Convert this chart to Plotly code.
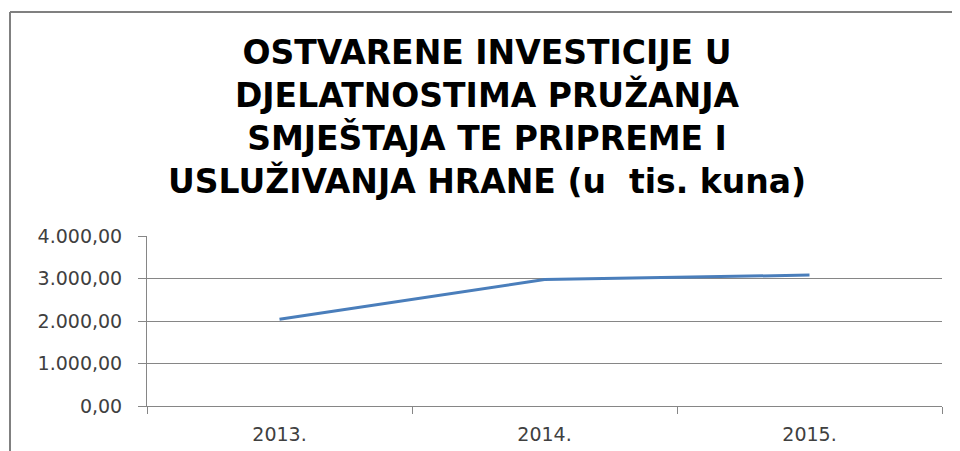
import plotly.graph_objects as go

# Data (thousand kuna)
years = ["2013.", "2014.", "2015."]
investments = [2040, 2975, 3080]

y_tick_values = [0, 1000, 2000, 3000, 4000]
y_tick_labels = ["0,00", "1.000,00", "2.000,00", "3.000,00", "4.000,00"]

title_lines = [
    "OSTVARENE INVESTICIJE U",
    "DJELATNOSTIMA PRUŽANJA",
    "SMJEŠTAJA TE PRIPREME I",
    "USLUŽIVANJA HRANE (u  tis. kuna)",
]

# the page body adds an 8px margin, so the figure is shrunk to fit
PAGE_OFFSET = 8
WIDTH, HEIGHT = 960 - PAGE_OFFSET, 451 - PAGE_OFFSET
MARGIN = dict(l=147 - PAGE_OFFSET, r=18, t=236 - PAGE_OFFSET, b=45, autoexpand=False)
plot_w = WIDTH - MARGIN["l"] - MARGIN["r"]
plot_h = HEIGHT - MARGIN["t"] - MARGIN["b"]


def px_to_paper_x(px):
    # px is a screen pixel position
    return (px - PAGE_OFFSET - MARGIN["l"]) / plot_w


def px_to_paper_y(py):
    return (HEIGHT - MARGIN["b"] - (py - PAGE_OFFSET)) / plot_h


fig = go.Figure()

fig.add_trace(go.Scatter(
    x=years,
    y=investments,
    mode="lines",
    line=dict(color="#4A7EBB", width=3),
    showlegend=False,
    hoverinfo="x+y",
))

axis_gray = "#868686"
tick_font = dict(family="DejaVu Sans", size=19, color="#404040")

fig.update_xaxes(
    type="category",
    range=[-0.5, 2.5],
    tickson="boundaries",
    ticks="outside",
    ticklen=7,
    tickcolor=axis_gray,
    showline=True,
    linecolor=axis_gray,
    linewidth=1,
    showgrid=False,
    zeroline=False,
    tickfont=tick_font,
    ticklabelstandoff=11,
    automargin=False,
    fixedrange=True,
)

fig.update_yaxes(
    range=[0, 4000],
    tickvals=y_tick_values,
    ticktext=y_tick_labels,
    ticks="outside",
    ticklen=8,
    tickcolor=axis_gray,
    showline=True,
    linecolor=axis_gray,
    linewidth=1,
    showgrid=True,
    gridcolor=axis_gray,
    gridwidth=1,
    zeroline=False,
    tickfont=tick_font,
    ticklabelstandoff=12,
    automargin=False,
    fixedrange=True,
)

# chart frame (cut off at right and bottom in the original)
frame = dict(color="#808080", width=2)
fig.add_shape(type="line", xref="paper", yref="paper",
              x0=px_to_paper_x(10), x1=px_to_paper_x(10),
              y0=px_to_paper_y(12), y1=px_to_paper_y(470), line=frame)
fig.add_shape(type="line", xref="paper", yref="paper",
              x0=px_to_paper_x(10), x1=px_to_paper_x(980),
              y0=px_to_paper_y(12), y1=px_to_paper_y(12), line=frame)

fig.update_layout(
    width=WIDTH,
    height=HEIGHT,
    margin=MARGIN,
    title=dict(
        text="<b>" + "<br>".join(title_lines) + "</b>",
        font=dict(family="DejaVu Sans", size=33, color="#000000"),
        x=(487 - PAGE_OFFSET) / WIDTH,
        xanchor="center",
        xref="container",
        y=1 - 56 / HEIGHT,
        yanchor="top",
        yref="container",
    ),
    plot_bgcolor="white",
    paper_bgcolor="white",
)

fig.write_html("out.html")
